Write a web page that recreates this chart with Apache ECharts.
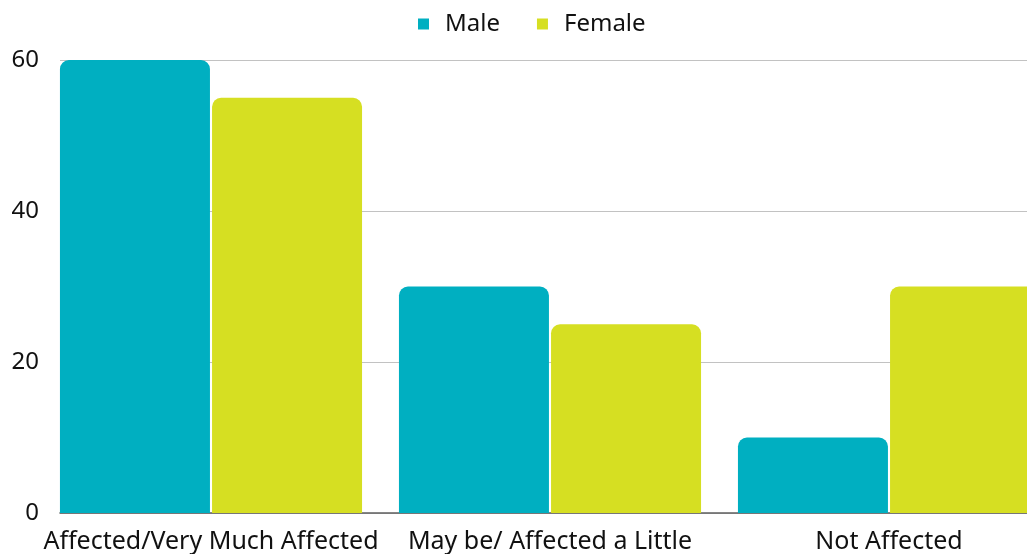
<!DOCTYPE html>
<html>
<head>
<meta charset="utf-8">
<script src="https://cdn.jsdelivr.net/npm/echarts@6/dist/echarts.min.js"></script>
<style>
  html, body { margin: 0; padding: 0; background: #fff; }
  #chart { width: 1027px; height: 554px; }
</style>
</head>
<body>
<div id="chart"></div>
<script>
// Survey responses by gender
const categories = ['Affected/Very Much Affected', 'May be/ Affected a Little', 'Not Affected'];
const maleValues = [60, 30, 10];
const femaleValues = [55, 25, 30];
const yTicks = { min: 0, max: 60, interval: 20 };

const FONT = '"Noto Sans", "Open Sans", sans-serif';
const MALE_COLOR = '#00AFC1';
const FEMALE_COLOR = '#D6DF22';

const chart = echarts.init(document.getElementById('chart'), null, { renderer: 'canvas' });

chart.setOption({
  backgroundColor: '#ffffff',
  animation: false,
  legend: {
    top: 12,
    left: 418,
    padding: 0,
    itemWidth: 11,
    itemHeight: 11,
    itemGap: 37,
    icon: 'rect',
    textStyle: { fontFamily: FONT, fontSize: 24, color: '#111', padding: [0, 0, 0, 11] },
    data: ['Male', 'Female']
  },
  grid: [
    // frame for value axis, gridlines and baseline
    { left: 60, right: 0, top: 60, bottom: 41, outerBoundsMode: 'none' },
    // bar area: categories run past the right edge so the first bar sits on the left edge
    { left: 41.5, width: 1017, top: 60, bottom: 41, outerBoundsMode: 'none' }
  ],
  xAxis: [
    {
      type: 'category', gridIndex: 0, data: categories,
      axisLine: { show: true, lineStyle: { color: '#5f5f5f', width: 1.6 } },
      axisTick: { show: false }, axisLabel: { show: false }
    },
    {
      type: 'category', gridIndex: 1, data: categories,
      axisLine: { show: false }, axisTick: { show: false },
      axisLabel: { fontFamily: FONT, fontSize: 25, color: '#111', margin: 16, interval: 0 }
    }
  ],
  yAxis: [
    {
      type: 'value', gridIndex: 0,
      min: yTicks.min, max: yTicks.max, interval: yTicks.interval,
      axisLine: { show: false }, axisTick: { show: false },
      axisLabel: { fontFamily: FONT, fontSize: 24, color: '#111', margin: 21 },
      splitLine: { lineStyle: { color: '#c2c2c2', width: 1.2 } }
    },
    {
      type: 'value', gridIndex: 1,
      min: yTicks.min, max: yTicks.max, interval: yTicks.interval,
      show: false, splitLine: { show: false }
    }
  ],
  series: [
    {
      name: 'Male', type: 'bar', xAxisIndex: 1, yAxisIndex: 1,
      data: maleValues, barWidth: 150, barGap: '1.4%',
      itemStyle: { color: MALE_COLOR, borderRadius: [9, 9, 0, 0] }
    },
    {
      name: 'Female', type: 'bar', xAxisIndex: 1, yAxisIndex: 1,
      data: femaleValues, barWidth: 150, barGap: '1.4%',
      itemStyle: { color: FEMALE_COLOR, borderRadius: [9, 9, 0, 0] }
    }
  ]
});
</script>
</body>
</html>
